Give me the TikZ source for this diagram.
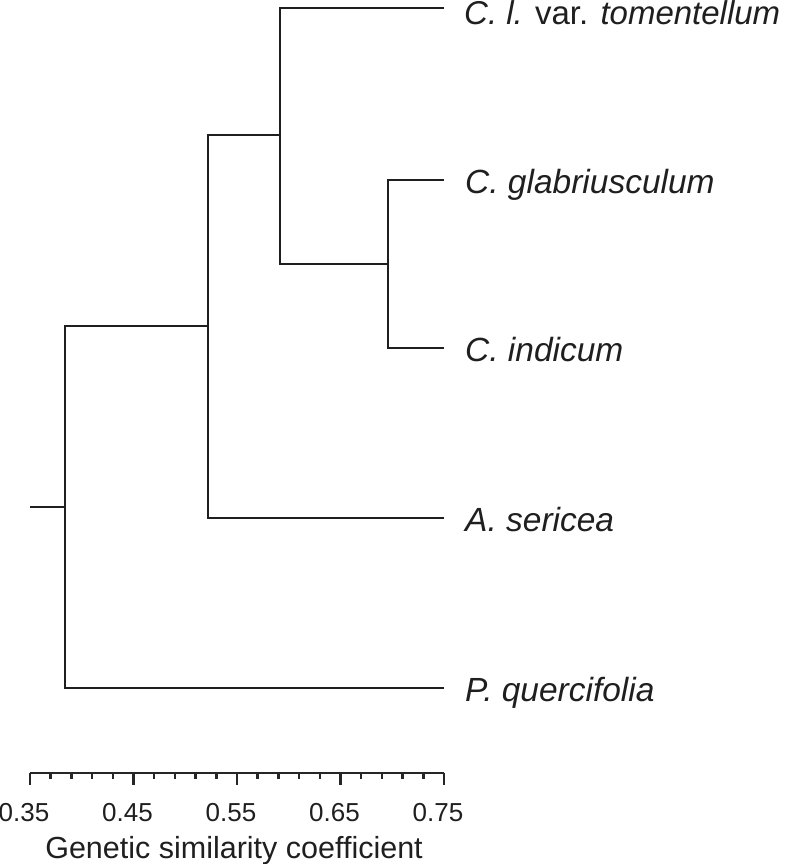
\documentclass[tikz,border=0pt]{standalone}
\usepackage{fontspec}
\setmainfont{Liberation Sans}
\usetikzlibrary{positioning,calc}

\begin{document}
\begin{tikzpicture}[
    x=1pt, y=-1pt,
    branch/.style={draw=black!88, line width=2.6pt},
    axis/.style={draw=black!85, line width=2.4pt},
    taxon/.style={anchor=base west, inner sep=0pt, text=black!88,
                  font=\fontsize{33.5}{38}\selectfont\itshape},
    ticklabel/.style={anchor=base, inner sep=0pt, text=black!88,
                  font=\fontsize{26}{30}\selectfont},
    axislabel/.style={anchor=base, inner sep=0pt, text=black!88,
                  font=\fontsize{30.5}{34}\selectfont}
]
    \useasboundingbox (0,0) rectangle (789,864);

    % leaf tips
    \coordinate (tipct) at (444,8);
    \coordinate (tipcg) at (444,180);
    \coordinate (tipci) at (444,348);
    \coordinate (tipas) at (444,518);
    \coordinate (tippq) at (444,688);

    % internal nodes
    \coordinate (cgci) at (388,264);
    \coordinate (ctcc) at (280,135);
    \coordinate (ascc) at (208,326);
    \coordinate (root) at (65,507);
    \coordinate (stub) at (30,507);

    \draw[branch] (cgci) |- (tipcg);
    \draw[branch] (cgci) |- (tipci);
    \draw[branch] (ctcc) |- (tipct);
    \draw[branch] (ctcc) |- (cgci);
    \draw[branch] (ascc) |- (ctcc);
    \draw[branch] (ascc) |- (tipas);
    \draw[branch] (root) |- (ascc);
    \draw[branch] (root) |- (tippq);
    \draw[branch] (stub) -- (root);

    \node[taxon] (ct) at (464,25) {\fontsize{33}{38}\selectfont C. l. \textup{var.} tomentellum};
    \node[taxon] (cg) at (465,193) {C. glabriusculum};
    \node[taxon] (ci) at (465,361) {C. indicum};
    \node[taxon] (as) at (465,531) {A. sericea};
    \node[taxon] (pq) at (465,701) {P. quercifolia};

    % scale bar
    \coordinate (axl) at (30,773);
    \coordinate (axr) at (444,773);
    \draw[axis] (axl) -- (axr);
    \foreach \i in {0,...,20}
        \draw[axis] ($(axl)!\i/20!(axr)$) -- ++(0,6);
    \foreach \v [count=\k from 0] in {0.35,0.45,0.55,0.65,0.75}{
        \draw[axis] ($(axl)!\k/4!(axr)$) -- ++(0,12);
        \node[ticklabel] (t\k) at ($(axl)!\k/4!(axr)+(-6,48)$) {\v};
    }
    \node[axislabel] (axtitle) at (234,858) {Genetic similarity coefficient};
\end{tikzpicture}
\end{document}
